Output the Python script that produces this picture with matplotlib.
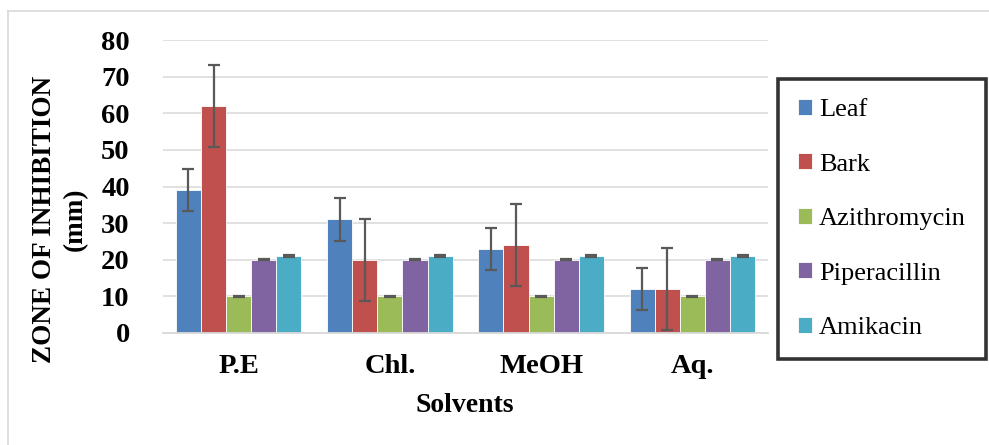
import numpy as np
from matplotlib import pyplot as plt
from matplotlib.lines import Line2D

plt.rcParams['font.family'] = 'Liberation Serif'

solvents = ['P.E', 'Chl.', 'MeOH', 'Aq.']
series = ['Leaf', 'Bark', 'Azithromycin', 'Piperacillin', 'Amikacin']
leaf = [39, 31, 23, 12]
bark = [62, 20, 24, 12]
azithromycin = [10, 10, 10, 10]
piperacillin = [20, 20, 20, 20]
amikacin = [21, 21, 21, 21]
leaf_err = [5.8, 5.8, 5.8, 5.8]
bark_err = [11.2, 11.2, 11.2, 11.2]
drug_err = [0.2, 0.2, 0.2, 0.2]

values = [leaf, bark, azithromycin, piperacillin, amikacin]
errors = [leaf_err, bark_err, drug_err, drug_err, drug_err]
colors = ['#4F81BD', '#C0504D', '#9BBB59', '#8064A2', '#4BACC6']

W, H = 989, 445
fig = plt.figure(figsize=(W / 100, H / 100), dpi=100)
ax = fig.add_axes([163 / W, 1 - 333 / H, 605 / W, 293 / H])

ind = np.arange(len(solvents))
width = 0.166
for j, (vals, errs) in enumerate(zip(values, errors)):
    ax.bar(ind + (j - 2) * width, vals, width, color=colors[j], edgecolor='white',
           linewidth=0.6, label=series[j], zorder=2,
           yerr=errs, error_kw=dict(ecolor='#595959', elinewidth=1.6, capsize=4,
                                    capthick=1.6, zorder=3))

ax.set_xlim(-0.5, 3.5)
ax.set_ylim(0, 80)
ax.set_yticks(range(0, 81, 10))
ax.set_xticks(ind)
ax.set_xticklabels(solvents)
ax.tick_params(length=0, labelsize=20.5)
ax.tick_params(axis='y', pad=24)
ax.tick_params(axis='x', pad=15)
for lbl in ax.get_xticklabels() + ax.get_yticklabels():
    lbl.set_fontweight('bold')
ax.grid(axis='y', color='#d9d9d9', linewidth=1.1, zorder=0)
for s in ['top', 'right', 'left']:
    ax.spines[s].set_visible(False)
ax.spines['bottom'].set_color('#d9d9d9')
ax.spines['bottom'].set_linewidth(1.3)

fig.text(465 / W, 1 - 405 / H, 'Solvents', ha='center', va='center',
         fontsize=20, fontweight='bold')
fig.text(60 / W, 1 - 219 / H, 'ZONE OF INHIBITION\n(mm)', ha='center', va='center',
         rotation=90, fontsize=19.5, fontweight='bold', linespacing=1.35,
         multialignment='center')

leg = fig.legend(loc='upper left', bbox_to_anchor=(778 / W, 1 - 79 / H),
                 bbox_transform=fig.transFigure, borderaxespad=0, fontsize=19,
                 frameon=True, fancybox=False, edgecolor='black',
                 handlelength=0.55, handleheight=0.55, handletextpad=0.25,
                 labelspacing=1.22, borderpad=0.75)
leg.get_frame().set_linewidth(2.6)

# light outer frame of the chart area
fig.add_artist(Line2D([8 / W, 1], [1 - 11 / H, 1 - 11 / H], color='#d9d9d9', lw=1.2))
fig.add_artist(Line2D([8 / W, 8 / W], [0, 1 - 11 / H], color='#d9d9d9', lw=1.2))

fig.savefig('out.png', dpi=100)
